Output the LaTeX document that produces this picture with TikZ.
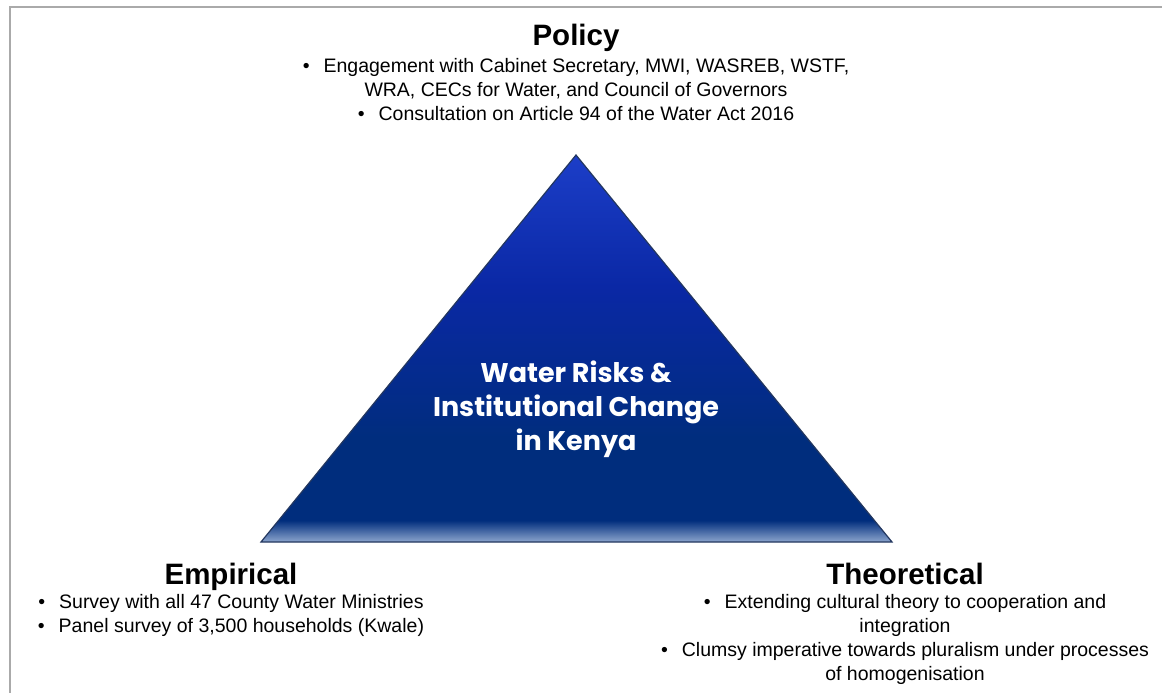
\documentclass[tikz,border=0pt]{standalone}
\usepackage{fontspec}
\setmainfont{Liberation Sans}
\newfontfamily\titlefont{Poppins}
\usetikzlibrary{positioning}
\definecolor{trinavy}{RGB}{0,45,125}
\definecolor{trimid}{RGB}{10,40,165}
\definecolor{tritop}{RGB}{28,62,200}
\definecolor{trilight}{RGB}{140,165,205}
\definecolor{triedge}{RGB}{35,55,95}
\definecolor{framegray}{RGB}{170,170,170}
% glossy blue fill, light band at the base
\pgfdeclareverticalshading{trishade}{100bp}{color(0bp)=(trilight); color(25bp)=(trilight); color(27.8bp)=(trinavy); color(38bp)=(trinavy); color(58bp)=(trimid); color(75bp)=(tritop); color(100bp)=(tritop)}
\tikzset{
    heading/.style={font=\fontsize{29.5}{34}\selectfont\bfseries, inner sep=0pt, anchor=base},
    bullets/.style={font=\fontsize{19.5}{24}\selectfont, align=center, inner sep=0pt},
    centretext/.style={text=white, font=\titlefont\fontsize{27}{34}\selectfont\bfseries, align=center, inner sep=0pt},
    pyramid/.style={draw=triedge, line width=1.2pt, shade, shading=trishade},
    frame/.style={draw=framegray, line width=2pt}
}
\newcommand{\bul}{\textbullet\hspace{14pt}}
\begin{document}
\begin{tikzpicture}[x=1pt, y=-1pt]
    \useasboundingbox (0,0) rectangle (1162,693);
    % Frame
    \draw[frame] (9.5,693) -- (9.5,7) -- (1162,7);

    % Triangle
    \coordinate (apex) at (576,155);
    \coordinate (left) at (261,542);
    \coordinate (right) at (892,542);
    \path[pyramid] (apex) -- (right) -- (left) -- cycle;
    \node[centretext] (topic) at (576,409) {Water Risks \&\\Institutional Change\\in Kenya};

    % Policy
    \node[heading] (policy) at (576,46) {Policy};
    \node[bullets] (policylist) at (576,90) {\bul Engagement with Cabinet Secretary, MWI, WASREB, WSTF,\\
        WRA, CECs for Water, and Council of Governors\\
        \bul Consultation on Article 94 of the Water Act 2016};

    % Empirical
    \node[heading] (empirical) at (231,584) {Empirical};
    \node[bullets] (empiricallist) at (231,615) {\bul Survey with all 47 County Water Ministries\\
        \bul Panel survey of 3,500 households (Kwale)};

    % Theoretical
    \node[heading] (theoretical) at (905,584) {Theoretical};
    \node[bullets] (theoreticallist) at (905,639) {\bul Extending cultural theory to cooperation and\\
        integration\\
        \bul Clumsy imperative towards pluralism under processes\\
        of homogenisation};
\end{tikzpicture}
\end{document}
